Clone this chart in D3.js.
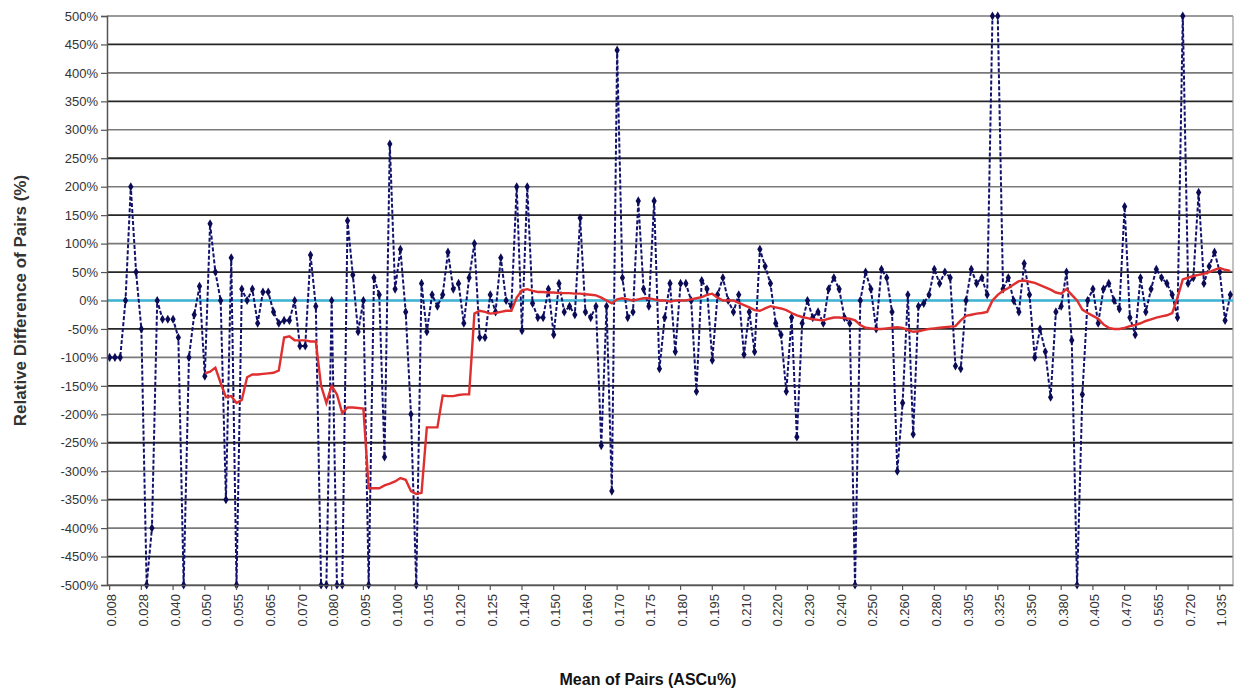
<!DOCTYPE html>
<html>
<head>
<meta charset="utf-8">
<script src="https://cdn.jsdelivr.net/npm/d3@7"></script>
<style>
  body { margin: 0; background: #fff; }
  text { font-family: "Liberation Sans", Arial, sans-serif; }
</style>
</head>
<body>
<svg id="chart" width="1238" height="690"></svg>
<script>
// tick labels shown on the category axis (one every 6 categories)
const tickLabels = ["0.008", "0.028", "0.040", "0.050", "0.055", "0.065", "0.070", "0.080", "0.095",
  "0.100", "0.105", "0.120", "0.125", "0.140", "0.150", "0.160", "0.170", "0.175", "0.180", "0.195",
  "0.210", "0.220", "0.230", "0.240", "0.250", "0.260", "0.280", "0.305", "0.325", "0.350", "0.380",
  "0.405", "0.470", "0.565", "0.720", "1.035"];
const labelStep = 6;

// relative difference of each pair (%)
const relDiff = [
  -100, -100, -100, 0, 200, 50,
  -50, -500, -400, 0, -33, -33,
  -33, -65, -500, -100, -25, 25,
  -133, 135, 50, 0, -350, 75,
  -500, 20, 0, 20, -40, 15,
  15, -20, -40, -35, -35, 0,
  -80, -80, 80, -10, -500, -500,
  0, -500, -500, 140, 45, -55,
  0, -500, 40, 10, -275, 275,
  20, 90, -20, -200, -500, 30,
  -55, 10, -10, 10, 85, 20,
  30, -40, 40, 100, -65, -65,
  10, -20, 75, 0, -10, 200,
  -53, 200, -5, -30, -30, 20,
  -60, 30, -20, -10, -25, 145,
  -20, -30, -10, -255, -10, -335,
  440, 40, -30, -20, 175, 20,
  -10, 175, -120, -30, 30, -90,
  30, 30, 0, -160, 35, 20,
  -105, 10, 40, 0, -20, 10,
  -95, -20, -90, 90, 60, 30,
  -40, -60, -160, -30, -240, -40,
  0, -30, -20, -40, 20, 40,
  20, -30, -40, -500, 0, 50,
  20, -50, 55, 40, -20, -300,
  -180, 10, -235, -10, -5, 10,
  55, 30, 50, 40, -115, -120,
  0, 55, 30, 40, 10, 500,
  500, 20, 40, 0, -20, 65,
  10, -100, -50, -90, -170, -20,
  -10, 50, -70, -500, -165, 0,
  20, -40, 20, 30, 0, -15,
  165, -30, -60, 40, -20, 20,
  55, 40, 30, 10, -30, 500,
  30, 40, 190, 30, 60, 85,
  50, -35, 10
];

// moving trend series (%), starts at the 19th pair
const trend = [
  null, null, null, null, null, null, null, null, null, null, null, null,
  null, null, null, null, null, null,
  -128, -125, -118, -145, -170, -168,
  -180, -175, -135, -130, -130, -129,
  -128, -127, -123, -65, -63, -70,
  -70, -70, -72, -72, -150, -180,
  -150, -165, -198, -188, -188, -189,
  -190, -330, -330, -330, -325, -322,
  -318, -312, -315, -335, -340, -338,
  -223, -223, -223, -167, -168, -168,
  -166, -165, -165, -23, -18, -20,
  -23, -22, -20, -18, -18, 5,
  18, 20, 17, 15, 15, 14,
  14, 13, 13, 13, 12, 12,
  11, 10, 9, 5, 0, -5,
  2, 4, 2, 0, 2, 4,
  4, 2, 0, 0, -2, 0,
  0, 0, 2, 4, 6, 10,
  12, 5, 0, 0, 0, -4,
  -8, -12, -17, -18, -14, -10,
  -12, -14, -17, -22, -26, -29,
  -31, -33, -34, -35, -32, -30,
  -30, -31, -32, -35, -43, -48,
  -49, -50, -50, -49, -48, -47,
  -48, -52, -55, -54, -52, -50,
  -49, -48, -47, -46, -45, -35,
  -27, -25, -23, -22, -20, 0,
  10, 17, 22, 28, 34, 35,
  33, 31, 27, 23, 19, 14,
  12, 20, 10, 0, -16, -22,
  -27, -32, -42, -48, -50, -50,
  -48, -45, -43, -40, -36, -33,
  -30, -28, -26, -22, 5, 37,
  40, 43, 45, 47, 50, 54,
  57, 54, 52
];

const yTicks = d3.range(-500, 501, 50);

const width = 1238, height = 690;
const margin = { top: 16, right: 5, bottom: 105, left: 107 };
const chartWidth = width - margin.left - margin.right;
const chartHeight = height - margin.top - margin.bottom;

const svg = d3.select('#chart')
  .append('g')
  .attr('transform', `translate(${margin.left}, ${margin.top})`);

const xScale = d3.scaleBand()
  .domain(d3.range(relDiff.length))
  .range([0, chartWidth]);

const yScale = d3.scaleLinear()
  .domain([-500, 500])
  .range([chartHeight, 0]);

const cx = i => xScale(i) + xScale.bandwidth() / 2;

// horizontal gridlines (alternate ones look heavier in the original)
svg.append('g')
  .selectAll('line')
  .data(yTicks)
  .enter()
  .append('line')
  .attr('x1', 0)
  .attr('x2', chartWidth)
  .attr('y1', d => yScale(d))
  .attr('y2', d => yScale(d))
  .attr('stroke', d => (Math.abs(d) % 100 === 50) ? '#262626' : '#7a7a7a')
  .attr('stroke-width', d => (Math.abs(d) % 100 === 50) ? 1.8 : 1.6);

// right border of plot area
svg.append('line')
  .attr('x1', chartWidth).attr('x2', chartWidth)
  .attr('y1', 0).attr('y2', chartHeight)
  .attr('stroke', '#9a9a9a')
  .attr('stroke-width', 1.2);

// zero reference line
svg.append('line')
  .attr('x1', 0)
  .attr('x2', chartWidth)
  .attr('y1', yScale(0))
  .attr('y2', yScale(0))
  .attr('stroke', '#3fb6d6')
  .attr('stroke-width', 2.5);

const plot = svg.append('g');

// dashed series of pair differences
const line = d3.line()
  .x((d, i) => cx(i))
  .y(d => yScale(d));

plot.append('path')
  .datum(relDiff)
  .attr('d', line)
  .attr('fill', 'none')
  .attr('stroke', '#12126e')
  .attr('stroke-width', 2)
  .attr('stroke-dasharray', '4,2');

plot.selectAll('.marker')
  .data(relDiff)
  .enter()
  .append('path')
  .attr('class', 'marker')
  .attr('transform', (d, i) => `translate(${cx(i)}, ${yScale(d)})`)
  .attr('d', d3.symbol().type(d3.symbolDiamond).size(24))
  .attr('fill', '#0a0a55');

// trend line
const trendLine = d3.line()
  .defined(d => d !== null)
  .x((d, i) => cx(i))
  .y(d => yScale(d));

plot.append('path')
  .datum(trend)
  .attr('d', trendLine)
  .attr('fill', 'none')
  .attr('stroke', '#df2f2f')
  .attr('stroke-width', 2.4);

// Y axis
const yAxis = svg.append('g')
  .call(d3.axisLeft(yScale)
    .tickValues(yTicks)
    .tickSize(6)
    .tickFormat(d => d + '%'));
yAxis.select('.domain').attr('stroke', '#555').attr('stroke-width', 1.5);
yAxis.selectAll('.tick line').attr('stroke', '#555').attr('stroke-width', 1.2);
yAxis.selectAll('text')
  .style('font-size', '13px')
  .attr('fill', '#333')
  .attr('x', -9);

// X axis
const labelIdx = d3.range(0, relDiff.length, labelStep);
const xAxis = svg.append('g')
  .attr('transform', `translate(0, ${chartHeight})`)
  .call(d3.axisBottom(xScale)
    .tickValues(labelIdx)
    .tickSize(5)
    .tickSizeOuter(0)
    .tickFormat(i => tickLabels[i / labelStep]));
xAxis.select('.domain').attr('stroke', '#555').attr('stroke-width', 1.5);
xAxis.selectAll('.tick line').attr('stroke', '#555').attr('stroke-width', 1.2);
xAxis.selectAll('text')
  .style('font-size', '13px')
  .attr('fill', '#333')
  .attr('transform', 'rotate(-90)')
  .attr('x', -9)
  .attr('y', 2)
  .attr('dy', '0.35em')
  .attr('dx', 0)
  .style('text-anchor', 'end');

// Axis titles
svg.append('text')
  .attr('transform', 'rotate(-90)')
  .attr('x', -chartHeight / 2)
  .attr('y', -margin.left + 26)
  .style('text-anchor', 'middle')
  .style('font-size', '17px')
  .style('font-weight', 'bold')
  .attr('fill', '#333')
  .text('Relative Difference of Pairs (%)');

svg.append('text')
  .attr('x', 541)
  .attr('y', chartHeight + 100)
  .style('text-anchor', 'middle')
  .style('font-size', '16px')
  .style('font-weight', 'bold')
  .attr('fill', '#111')
  .text('Mean of Pairs (ASCu%)');
</script>
</body>
</html>
